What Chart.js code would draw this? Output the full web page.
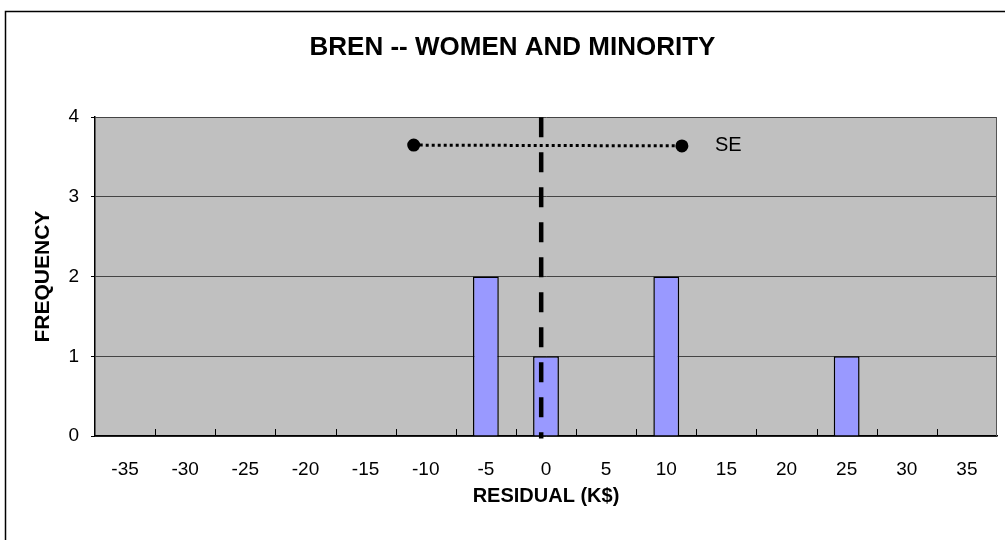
<!DOCTYPE html>
<html><head><meta charset="utf-8">
<script src="https://cdn.jsdelivr.net/npm/chart.js@4.4.0/dist/chart.umd.min.js"></script>
<style>html,body{margin:0;padding:0;background:#fff}#wrap{width:1005px;height:540px;position:relative}</style>
</head><body><div id="wrap"><canvas id="c" width="1005" height="540"></canvas></div>
<script>
const categories = ['-35','-30','-25','-20','-15','-10','-5','0','5','10','15','20','25','30','35'];
const frequency = [0,0,0,0,0,0,2,1,0,2,0,0,1,0,0];
const yTicks = [0,1,2,3,4];
const meanResidual = -0.4;
const seLow = -11.0, seHigh = 11.3, seLevel = 3.65;
const seLabel = 'SE';
const titleText = 'BREN -- WOMEN AND MINORITY';
const xTitle = 'RESIDUAL (K$)';
const yTitle = 'FREQUENCY';

const FONT = "'Liberation Sans', Arial, sans-serif";

const decor = {
  id: 'decor',
  beforeDraw(chart) {
    const {ctx, chartArea: a} = chart;
    ctx.save();
    ctx.fillStyle = '#C0C0C0';
    ctx.fillRect(a.left, a.top, a.right - a.left, a.bottom - a.top);
    ctx.strokeStyle = '#000'; ctx.lineWidth = 1.5;
    ctx.strokeRect(5.5, 11.5, 2000, 2000);
    ctx.restore();
  },
  afterDatasetsDraw(chart) {
    const {ctx, chartArea: a, scales} = chart;
    const xs = scales.x;
    ctx.save();
    ctx.strokeStyle = '#555'; ctx.lineWidth = 1;
    ctx.beginPath(); ctx.moveTo(a.right - 0.5, a.top); ctx.lineTo(a.right - 0.5, a.bottom); ctx.stroke();
    ctx.strokeStyle = '#000'; ctx.lineWidth = 1;
    const half = (xs.getPixelForValue(1) - xs.getPixelForValue(0)) / 2;
    for (let i = 1; i < categories.length; i++) {
      const px = Math.round(xs.getPixelForValue(i) - half) + 0.5;
      ctx.beginPath(); ctx.moveTo(px, a.bottom); ctx.lineTo(px, a.bottom - 7); ctx.stroke();
    }
    const x2 = scales.x2, y = scales.y;
    ctx.fillStyle = '#000';
    ctx.font = "20px " + FONT;
    ctx.textAlign = 'left'; ctx.textBaseline = 'middle';
    ctx.fillText(seLabel, x2.getPixelForValue(seHigh) + 33, y.getPixelForValue(seLevel));
    ctx.restore();
  }
};

new Chart(document.getElementById('c'), {
  type: 'bar',
  data: {
    labels: categories,
    datasets: [
      { type: 'bar', data: frequency, backgroundColor: '#9999FF', borderColor: '#000', borderWidth: 1.5,
        barPercentage: 0.43, categoryPercentage: 1, grouped: false, xAxisID: 'x', yAxisID: 'y', order: 3 },
      { type: 'line', data: [{x: meanResidual, y: 4}, {x: meanResidual, y: -0.03}], xAxisID: 'x2', yAxisID: 'y',
        borderColor: '#000', borderWidth: 4.5, borderDash: [20, 15], borderCapStyle: 'butt', pointRadius: 0, clip: false, order: 1 },
      { type: 'line', data: [{x: seLow, y: seLevel}, {x: seHigh, y: seLevel - 0.01}], xAxisID: 'x2', yAxisID: 'y',
        borderColor: '#000', borderWidth: 3, borderDash: [3, 3], pointRadius: 5, pointBackgroundColor: '#000',
        pointBorderColor: '#000', clip: false, order: 2 }
    ]
  },
  options: {
    responsive: false, animation: false, events: [],
    layout: { padding: { left: 25, right: 5, top: 0, bottom: 0 } },
    plugins: {
      legend: { display: false }, tooltip: { enabled: false },
      title: { display: true, text: titleText, color: '#000',
        font: { family: FONT, size: 26, weight: 'bold', lineHeight: 1.2 },
        padding: { top: 32, bottom: 54 } }
    },
    scales: {
      x: { type: 'category', offset: true,
        grid: { display: true, drawOnChartArea: false, drawTicks: false, offset: true },
        border: { display: true, color: '#000', width: 1.5 },
        ticks: { color: '#000', font: { family: FONT, size: 19 }, padding: 22, maxRotation: 0, autoSkip: false },
        title: { display: true, text: xTitle, color: '#000', font: { family: FONT, size: 20, weight: 'bold' }, padding: { top: 12, bottom: 32 } },
        afterFit(s) { s.height = 104; }
      },
      x2: { type: 'linear', display: false, offset: false, grace: 0, min: -37.5, max: 37.5 },
      y: { min: 0, max: 4,
        afterBuildTicks(s) { s.ticks = yTicks.map(v => ({value: v})); },
        grid: { color: '#444', lineWidth: 1, tickLength: 4, tickColor: '#000' },
        border: { display: true, color: '#000', width: 1.5 },
        ticks: { color: '#000', font: { family: FONT, size: 19 }, padding: 12 },
        title: { display: true, text: yTitle, color: '#000', font: { family: FONT, size: 21, weight: 'bold' }, padding: { top: 6 } },
        afterFit(s) { s.width = 70; }
      }
    }
  },
  plugins: [decor]
});
</script></body></html>
